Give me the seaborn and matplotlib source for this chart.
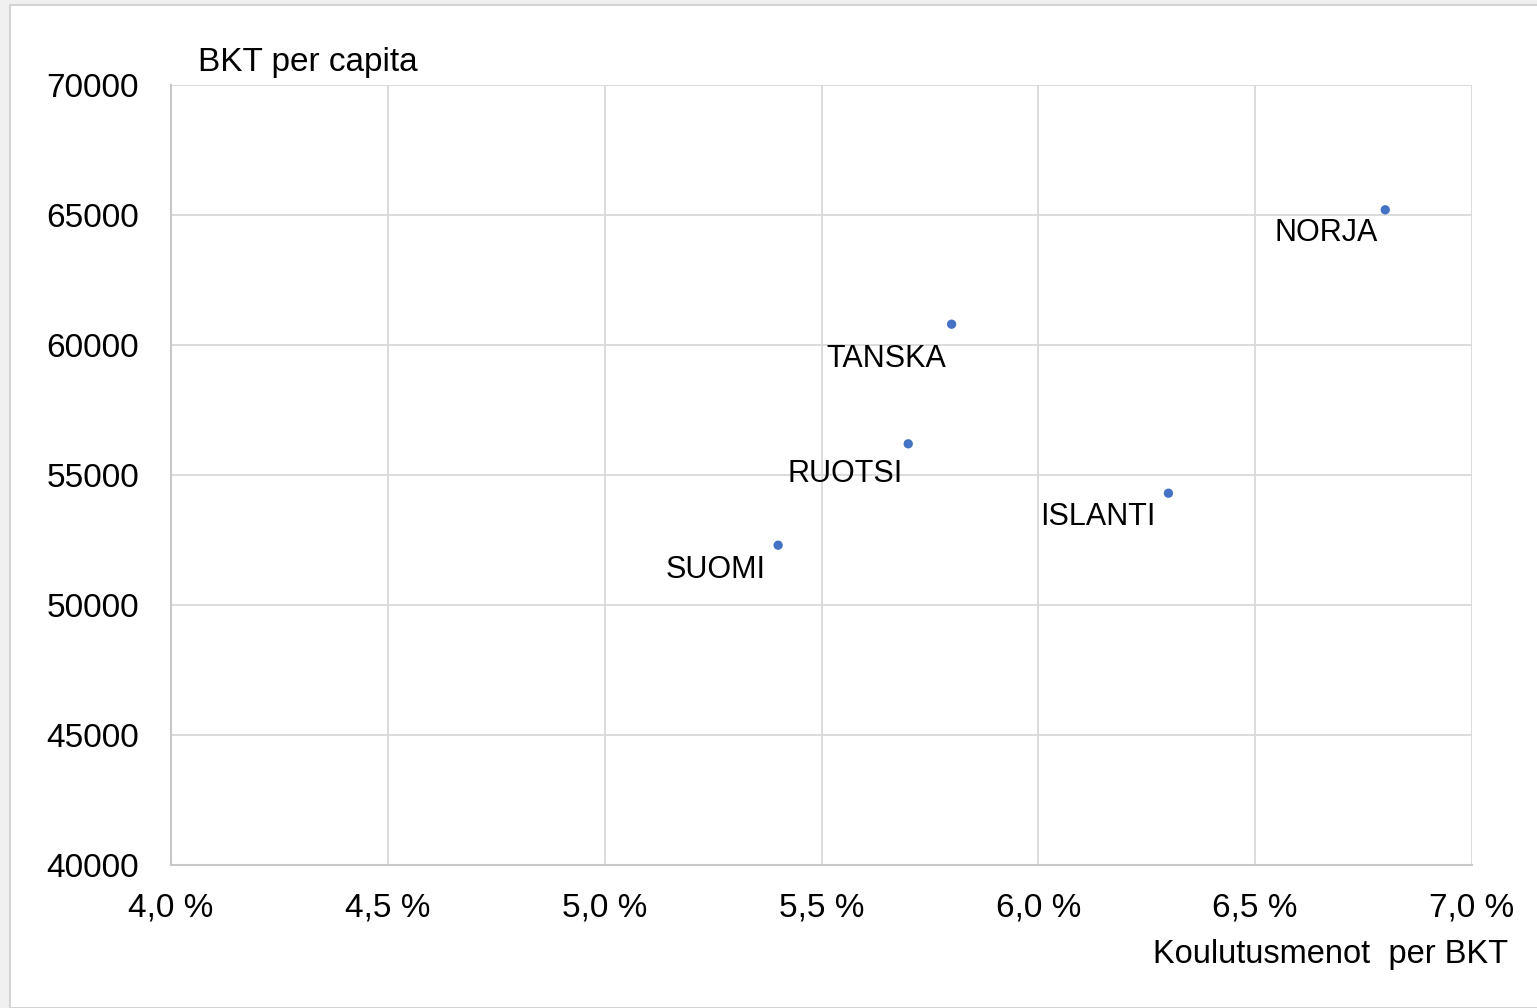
import pandas as pd
import seaborn as sns
import matplotlib.pyplot as plt
from matplotlib.patches import Rectangle
from matplotlib.ticker import FuncFormatter, MultipleLocator

# data
countries = ["NORJA", "TANSKA", "RUOTSI", "ISLANTI", "SUOMI"]
edu_spend = [6.8, 5.8, 5.7, 6.3, 5.4]          # % of GDP
gdp_per_capita = [65200, 60800, 56200, 54300, 52300]

x_label = "Koulutusmenot  per BKT"
y_label = "BKT per capita"

df = pd.DataFrame({"country": countries, "edu": edu_spend, "gdp": gdp_per_capita})

sns.set_style("white")
plt.rcParams["font.family"] = ["Liberation Sans", "DejaVu Sans"]

fig = plt.figure(figsize=(15.37, 10.08), dpi=100)
# screenshot frame: grey strip on left and top
fig.patches.append(Rectangle((0, 0), 1, 1, transform=fig.transFigure,
                             facecolor="#f0f0f0", edgecolor="none", zorder=-2))
fig.patches.append(Rectangle((10 / 1537, 0), 1, 1 - 5 / 1008, transform=fig.transFigure,
                             facecolor="white", edgecolor="#d4d4d4", linewidth=1.5, zorder=-1))

ax = fig.add_axes([171 / 1537, 143 / 1008, 1301 / 1537, 780 / 1008])
ax.set_facecolor("none")

sns.scatterplot(data=df, x="edu", y="gdp", ax=ax, color="#4472C4", s=45,
                edgecolor="none", zorder=3, legend=False)

# label offsets in points (left/below each point)
offsets = {"NORJA": (-5, -17), "TANSKA": (-4, -25), "RUOTSI": (-4, -22),
           "ISLANTI": (-9, -17), "SUOMI": (-9, -18)}
for _, row in df.iterrows():
    ax.annotate(row["country"], (row["edu"], row["gdp"]),
                xytext=offsets[row["country"]], textcoords="offset points",
                ha="right", va="center", fontsize=22, color="black")

ax.set_xlim(4.0, 7.0)
ax.set_ylim(40000, 70000)
ax.xaxis.set_major_locator(MultipleLocator(0.5))
ax.yaxis.set_major_locator(MultipleLocator(5000))
ax.xaxis.set_major_formatter(FuncFormatter(lambda v, p: f"{v:.1f} %".replace(".", ",")))
ax.yaxis.set_major_formatter(FuncFormatter(lambda v, p: f"{v:.0f}"))

ax.grid(True, color="#d9d9d9", linewidth=1.3)
ax.set_axisbelow(True)
for side in ["top", "right"]:
    ax.spines[side].set_visible(False)
for side in ["left", "bottom"]:
    ax.spines[side].set_color("#c8c8c8")
    ax.spines[side].set_linewidth(1.5)

ax.tick_params(axis="both", length=0, labelsize=24, colors="black")
ax.tick_params(axis="y", pad=23)
ax.tick_params(axis="x", pad=20)

ax.set_xlabel("")
ax.set_ylabel("")
fig.text(1508 / 1537, 1 - 955 / 1008, x_label, ha="right", va="center",
         fontsize=23.5, color="black")
fig.text(198 / 1537, 1 - 62 / 1008, y_label, ha="left", va="center",
         fontsize=24, color="black")

fig.savefig("out.png", dpi=100)
